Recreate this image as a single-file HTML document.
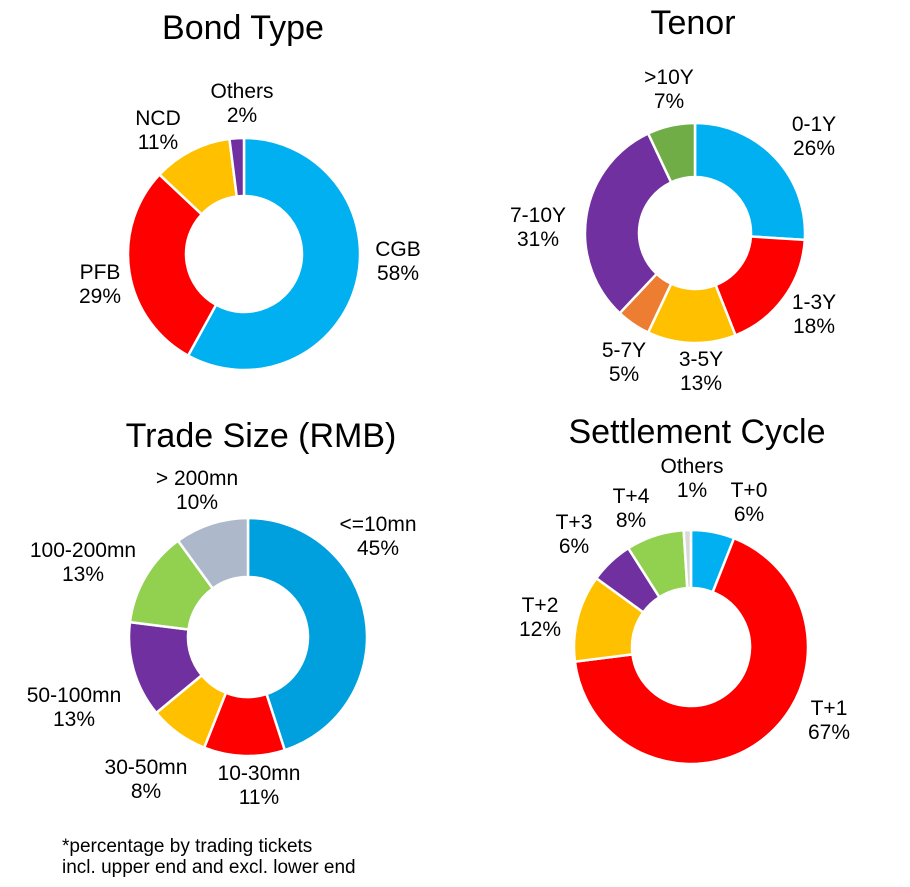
<!DOCTYPE html>
<html><head><meta charset="utf-8"><style>
html,body{margin:0;padding:0;background:#fff;}
svg{display:block;font-family:"Liberation Sans",Arial,sans-serif;}
</style></head><body>
<svg id="s" width="910" height="887" viewBox="0 0 910 887">
<g font-size="34" text-anchor="middle" fill="#000">
<text x="243" y="39">Bond Type</text>
<text x="693" y="34">Tenor</text>
<text x="261" y="447">Trade Size (RMB)</text>
<text x="697" y="443">Settlement Cycle</text>
</g>
<g id="pies"></g>
<g font-size="21" text-anchor="middle" fill="#000">
<text x="242" y="98">Others</text><text x="242" y="122">2%</text>
<text x="158" y="125">NCD</text><text x="158" y="149">11%</text>
<text x="100" y="279">PFB</text><text x="100" y="303">29%</text>
<text x="398" y="256">CGB</text><text x="398" y="280">58%</text>

<text x="669" y="84">&gt;10Y</text><text x="669" y="108">7%</text>
<text x="814" y="131">0-1Y</text><text x="814" y="155">26%</text>
<text x="538" y="222">7-10Y</text><text x="538" y="246">31%</text>
<text x="814" y="309">1-3Y</text><text x="814" y="333">18%</text>
<text x="624" y="357">5-7Y</text><text x="624" y="381">5%</text>
<text x="701" y="366">3-5Y</text><text x="701" y="390">13%</text>

<text x="197" y="485">&gt; 200mn</text><text x="197" y="509">10%</text>
<text x="378" y="531">&lt;=10mn</text><text x="378" y="555">45%</text>
<text x="83" y="557">100-200mn</text><text x="83" y="581">13%</text>
<text x="74" y="702">50-100mn</text><text x="74" y="726">13%</text>
<text x="146" y="774">30-50mn</text><text x="146" y="798">8%</text>
<text x="259" y="780">10-30mn</text><text x="259" y="804">11%</text>

<text x="692" y="473">Others</text><text x="692" y="497">1%</text>
<text x="749" y="497">T+0</text><text x="749" y="521">6%</text>
<text x="631" y="503">T+4</text><text x="631" y="527">8%</text>
<text x="574" y="529">T+3</text><text x="574" y="553">6%</text>
<text x="540" y="612">T+2</text><text x="540" y="636">12%</text>
<text x="829" y="715">T+1</text><text x="829" y="739">67%</text>
</g>
<g font-size="19" fill="#000">
<text x="62" y="852">*percentage by trading tickets</text>
<text x="62" y="873">incl. upper end and excl. lower end</text>
</g>
</svg>
<script>
var charts=[
 {cx:244,cy:254,r:116,ri:58,d:[[58,"#00B0F0"],[29,"#FF0000"],[11,"#FFC000"],[2,"#7030A0"]]},
 {cx:695,cy:233,r:110,ri:56,d:[[26,"#00B0F0"],[18,"#FF0000"],[13,"#FFC000"],[5,"#ED7D31"],[31,"#7030A0"],[7,"#70AD47"]]},
 {cx:248,cy:637,r:119,ri:60,d:[[45,"#00A0DF"],[11,"#FF0000"],[8,"#FFC000"],[13,"#7030A0"],[13,"#92D050"],[10,"#ADB9CA"]]},
 {cx:691,cy:647,r:117,ri:59,d:[[6,"#00B0F0"],[67,"#FF0000"],[12,"#FFC000"],[6,"#7030A0"],[8,"#92D050"],[1,"#D9D9D9"]]}
];
var g=document.getElementById("pies"),ns="http://www.w3.org/2000/svg";
charts.forEach(function(c){
 var tot=c.d.reduce(function(a,b){return a+b[0]},0),a=0;
 c.d.forEach(function(s){
  var a0=a/tot*2*Math.PI-Math.PI/2;a+=s[0];var a1=a/tot*2*Math.PI-Math.PI/2;
  var l=(a1-a0)>Math.PI?1:0;
  function p(r,t){return (c.cx+r*Math.cos(t)).toFixed(2)+" "+(c.cy+r*Math.sin(t)).toFixed(2);}
  var d="M"+p(c.r,a0)+"A"+c.r+" "+c.r+" 0 "+l+" 1 "+p(c.r,a1)+"L"+p(c.ri,a1)+"A"+c.ri+" "+c.ri+" 0 "+l+" 0 "+p(c.ri,a0)+"Z";
  var e=document.createElementNS(ns,"path");e.setAttribute("d",d);e.setAttribute("fill",s[1]);
  e.setAttribute("stroke","#fff");e.setAttribute("stroke-width","2.5");e.setAttribute("stroke-linejoin","round");g.appendChild(e);
 });
});
</script>
</body></html>
